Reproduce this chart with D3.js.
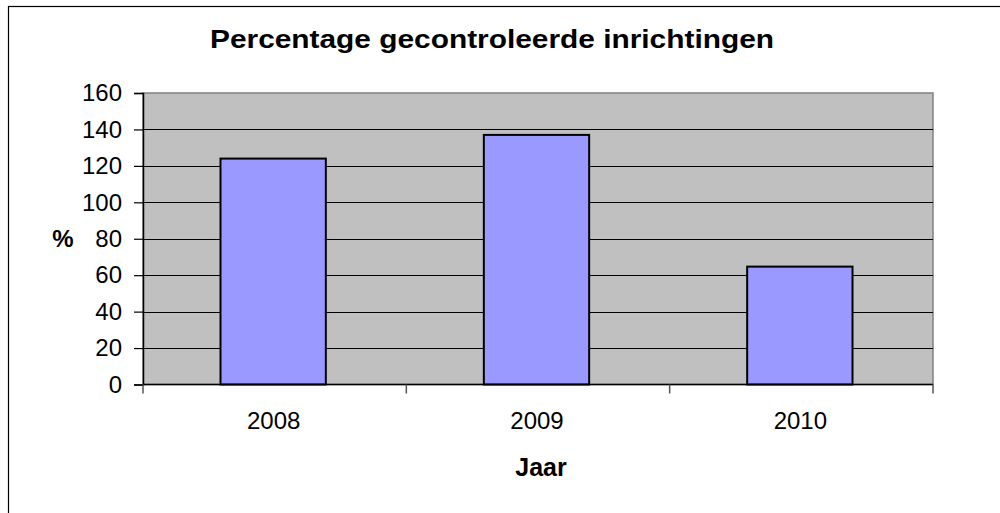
<!DOCTYPE html>
<html>
<head>
<meta charset="utf-8">
<script src="https://cdn.jsdelivr.net/npm/d3@7"></script>
<style>
  body { margin: 0; background: #fff; }
  svg { display: block; font-family: "Liberation Sans", Arial, sans-serif; }
</style>
</head>
<body>
<div id="chart"></div>
<script>
// chart data
const years = ["2008", "2009", "2010"];
const percentages = [124, 137, 64.7];
const yTicks = [0, 20, 40, 60, 80, 100, 120, 140, 160];

const chartTitle = "Percentage gecontroleerde inrichtingen";
const xLabelText = "Jaar";
const yLabelText = "%";

// plot area in page pixels
const plot = {left: 143, top: 93, right: 933, bottom: 384.5};

const svg = d3.select("#chart")
  .append("svg")
  .attr("width", 1000)
  .attr("height", 513);

// outer chart border (runs off the right and bottom)
svg.append("rect")
  .attr("x", 8.5)
  .attr("y", 6.5)
  .attr("width", 1100)
  .attr("height", 600)
  .attr("fill", "#fff")
  .attr("stroke", "#000")
  .attr("stroke-width", 1.2);

const x = d3.scaleBand()
  .domain(years)
  .range([plot.left, plot.right])
  .paddingInner(0)
  .paddingOuter(0);

const y = d3.scaleLinear()
  .domain([0, 160])
  .range([plot.bottom, plot.top]);

// grey plot background
svg.append("rect")
  .attr("x", plot.left)
  .attr("y", plot.top)
  .attr("width", plot.right - plot.left)
  .attr("height", plot.bottom - plot.top)
  .attr("fill", "#c0c0c0")
  .attr("stroke", "#808080")
  .attr("stroke-width", 1.5);

// horizontal gridlines
svg.append("g")
  .selectAll("line")
  .data(yTicks.filter(d => d > 0 && d < 160))
  .enter().append("line")
  .attr("x1", plot.left)
  .attr("x2", plot.right)
  .attr("y1", d => Math.round(y(d)) + 0.5)
  .attr("y2", d => Math.round(y(d)) + 0.5)
  .attr("stroke", "#000")
  .attr("stroke-width", 1.2);

// bars
const barW = x.bandwidth() * 0.4;
svg.append("g")
  .selectAll("rect")
  .data(years)
  .enter().append("rect")
  .attr("x", (d) => x(d) + (x.bandwidth() - barW) / 2 - 1.5)
  .attr("y", (d, i) => y(percentages[i]))
  .attr("width", barW)
  .attr("height", (d, i) => y(0) - y(percentages[i]))
  .attr("fill", "#9999ff")
  .attr("stroke", "#000")
  .attr("stroke-width", 2);

// y axis
const yAxis = svg.append("g")
  .attr("transform", `translate(${plot.left},0)`)
  .call(d3.axisLeft(y).tickValues(yTicks).tickSize(9).tickPadding(12));
yAxis.select(".domain").attr("stroke", "#000").attr("stroke-width", 1.5);
yAxis.selectAll(".tick line").attr("stroke", "#000").attr("stroke-width", 1.2);
yAxis.selectAll(".tick text")
  .attr("font-size", "24px")
  .attr("fill", "#000")
  .style("font-family", "Liberation Sans, Arial, sans-serif");

// x axis with ticks between categories
const xAxis = svg.append("g")
  .attr("transform", `translate(0,${plot.bottom})`);
xAxis.append("line")
  .attr("x1", plot.left)
  .attr("x2", plot.right)
  .attr("stroke", "#000")
  .attr("stroke-width", 1.5);
const bounds = years.map(d => x(d)).concat([plot.right]);
xAxis.selectAll(".sep")
  .data(bounds)
  .enter().append("line")
  .attr("class", "sep")
  .attr("x1", d => d)
  .attr("x2", d => d)
  .attr("y1", 0)
  .attr("y2", 9)
  .attr("stroke", "#555")
  .attr("stroke-width", 1.5);
xAxis.selectAll(".lbl")
  .data(years)
  .enter().append("text")
  .attr("class", "lbl")
  .attr("x", d => x(d) + x.bandwidth() / 2 - 1)
  .attr("y", 44)
  .attr("text-anchor", "middle")
  .attr("font-size", "24px")
  .text(d => d);

// title
svg.append("text")
  .attr("x", 210)
  .attr("y", 48)
  .attr("font-size", "26px")
  .attr("font-weight", "bold")
  .attr("textLength", 564)
  .attr("lengthAdjust", "spacingAndGlyphs")
  .text(chartTitle);

// axis labels
svg.append("text")
  .attr("x", 541)
  .attr("y", 476)
  .attr("text-anchor", "middle")
  .attr("font-size", "25px")
  .attr("font-weight", "bold")
  .text(xLabelText);

svg.append("text")
  .attr("x", 63)
  .attr("y", 247)
  .attr("text-anchor", "middle")
  .attr("font-size", "24px")
  .attr("font-weight", "bold")
  .text(yLabelText);
</script>
</body>
</html>
